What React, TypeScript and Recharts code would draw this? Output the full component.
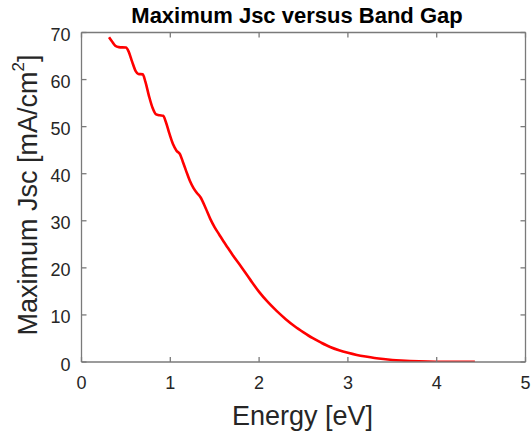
import React from 'react';
import { LineChart, Line, XAxis, YAxis } from 'recharts';

const energy = [
  0.31, 0.34, 0.38, 0.42, 0.5, 0.53, 0.57, 0.61, 0.64, 0.69, 0.72, 0.76, 0.8, 0.84, 0.88, 0.92,
  0.95, 0.99, 1.03, 1.07, 1.11, 1.14, 1.18, 1.22, 1.26, 1.3, 1.34, 1.4, 1.45, 1.5, 1.55, 1.6,
  1.65, 1.7, 1.8, 1.9, 2.0, 2.1, 2.2, 2.3, 2.4, 2.5, 2.6, 2.7, 2.8, 2.9, 3.0, 3.1, 3.2, 3.3,
  3.4, 3.5, 3.6, 3.7, 3.8, 3.9, 4.0, 4.2, 4.43,
];
const jsc = [
  69.0, 68.2, 67.2, 66.9, 66.8, 66.0, 63.8, 61.8, 61.2, 61.1, 59.5, 56.5, 54.0, 52.6, 52.4, 52.3,
  51.0, 48.5, 46.3, 44.9, 44.1, 42.6, 40.5, 38.5, 37.0, 35.9, 35.0, 32.6, 30.4, 28.6, 27.1, 25.6,
  24.2, 22.8, 20.2, 17.5, 14.9, 12.7, 10.8, 9.1, 7.6, 6.3, 5.1, 4.1, 3.2, 2.5, 1.95, 1.5, 1.15, 0.85,
  0.62, 0.44, 0.31, 0.21, 0.14, 0.09, 0.06, 0.03, 0.02,
];
const xTicks = [0, 1, 2, 3, 4, 5];
const yTicks = [0, 10, 20, 30, 40, 50, 60, 70];
const titleText = 'Maximum Jsc versus Band Gap';
const xLabelText = 'Energy [eV]';
const yLabelMain = 'Maximum Jsc [mA/cm';
const yLabelSup = '2';
const yLabelEnd = ']';

const data = energy.map((e, i) => ({ e, j: jsc[i] }));

const FONT = '"Liberation Sans", Arial, Helvetica, sans-serif';
const AXIS = '#7a7a7a';
const TEXT = '#262626';
const TICK = 5;

const BottomTick = (p: any) => (
  <g>
    <line x1={p.x} y1={p.y} x2={p.x} y2={p.y - TICK} stroke={AXIS} strokeWidth={1.3} />
    <text x={p.x} y={p.y + 27} textAnchor="middle" fontSize={18} fill={TEXT} fontFamily={FONT}>
      {p.payload.value}
    </text>
  </g>
);
const TopTick = (p: any) => (
  <line x1={p.x} y1={p.y} x2={p.x} y2={p.y + TICK} stroke={AXIS} strokeWidth={1.3} />
);
const LeftTick = (p: any) => (
  <g>
    <line x1={p.x} y1={p.y} x2={p.x + TICK} y2={p.y} stroke={AXIS} strokeWidth={1.3} />
    <text x={p.x - 11} y={p.y + 8.5} textAnchor="end" fontSize={18} fill={TEXT} fontFamily={FONT}>
      {p.payload.value}
    </text>
  </g>
);
const RightTick = (p: any) => (
  <line x1={p.x} y1={p.y} x2={p.x - TICK} y2={p.y} stroke={AXIS} strokeWidth={1.3} />
);

const TitleLabel = () => (
  <text x={297} y={23} textAnchor="middle" fontSize={22} fontWeight="bold" fill="#000" fontFamily={FONT}>
    {titleText}
  </text>
);
const XLabel = () => (
  <text x={302.5} y={425} textAnchor="middle" fontSize={27} fill={TEXT} fontFamily={FONT}>
    {xLabelText}
  </text>
);
const YLabel = () => (
  <text
    x={37}
    y={195}
    transform="rotate(-90, 37, 195)"
    textAnchor="middle"
    fontSize={27}
    fill={TEXT}
    fontFamily={FONT}
  >
    {yLabelMain}
    <tspan dy={-13} fontSize={17}>{yLabelSup}</tspan>
    <tspan dy={13}>{yLabelEnd}</tspan>
  </text>
);

export default function App() {
  return (
    <div style={{ position: 'fixed', left: 0, top: 0, width: 532, height: 437, background: '#fff' }}>
      <LineChart width={532} height={437} data={data} margin={{ top: 0, right: 0, bottom: 0, left: 0 }}>
        <XAxis
          xAxisId="bottom"
          dataKey="e"
          type="number"
          domain={[0, 5]}
          ticks={xTicks}
          orientation="bottom"
          height={75}
          stroke={AXIS}
          strokeWidth={1.3}
          tickSize={0}
          tickMargin={0}
          tickLine={false}
          tick={BottomTick}
          allowDataOverflow
          label={XLabel}
        />
        <XAxis
          xAxisId="top"
          dataKey="e"
          type="number"
          domain={[0, 5]}
          ticks={xTicks}
          orientation="top"
          height={32.5}
          stroke={AXIS}
          strokeWidth={1.3}
          tickSize={0}
          tickMargin={0}
          tickLine={false}
          tick={TopTick}
          allowDataOverflow
          label={TitleLabel}
        />
        <YAxis
          yAxisId="left"
          type="number"
          domain={[0, 70]}
          ticks={yTicks}
          orientation="left"
          width={81.5}
          stroke={AXIS}
          strokeWidth={1.3}
          tickSize={0}
          tickMargin={0}
          tickLine={false}
          tick={LeftTick}
          allowDataOverflow
          label={YLabel}
        />
        <YAxis
          yAxisId="right"
          type="number"
          domain={[0, 70]}
          ticks={yTicks}
          orientation="right"
          width={6.5}
          stroke={AXIS}
          strokeWidth={1.3}
          tickSize={0}
          tickMargin={0}
          tickLine={false}
          tick={RightTick}
          allowDataOverflow
        />
        <Line
          xAxisId="bottom"
          yAxisId="left"
          dataKey="j"
          type="monotone"
          stroke="#ff0000"
          strokeWidth={2.6}
          dot={false}
          activeDot={false}
          isAnimationActive={false}
        />
      </LineChart>
    </div>
  );
}
